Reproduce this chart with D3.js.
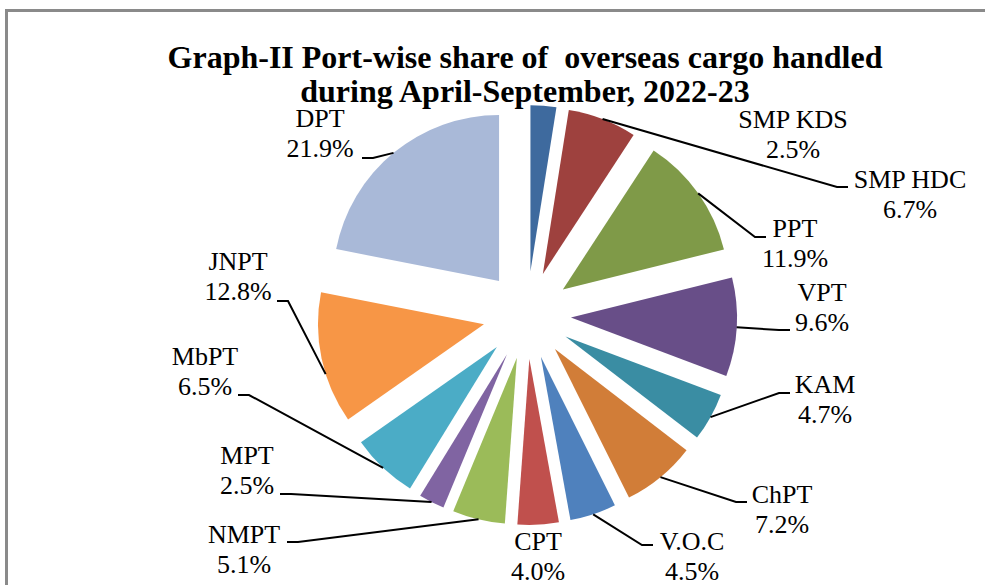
<!DOCTYPE html>
<html>
<head>
<meta charset="utf-8">
<script src="https://cdn.jsdelivr.net/npm/d3@7"></script>
<style>
  body { margin: 0; background: #fff; }
  svg { display: block; }
  text { font-family: "Liberation Serif", "Times New Roman", serif; fill: #000; }
</style>
</head>
<body>
<svg id="chart" width="985" height="585"></svg>
<script>
// data, clockwise from 12 o'clock
const ports = ["SMP KDS", "SMP HDC", "PPT", "VPT", "KAM", "ChPT", "V.O.C", "CPT", "NMPT", "MPT", "MbPT", "JNPT", "DPT"];
const shares = [2.5, 6.7, 11.9, 9.6, 4.7, 7.2, 4.5, 4.0, 5.1, 2.5, 6.5, 12.8, 21.9];
const colors = ["#3e6a9e", "#9e413e", "#7f9a48", "#684e88", "#3a8da3", "#d17d38",
                "#4f81bd", "#c0504d", "#9bbb59", "#8064a2", "#4bacc6", "#f79646", "#a9b9d8"];
const titleLines = ["Graph-II Port-wise share of  overseas cargo handled", "during April-September, 2022-23"];

// label placement (text centre x, first baseline y, leader end point, side of the stub, where on the arc the leader starts)
const labelLayout = {
    "SMP KDS": {x: 793, y: 128},
    "SMP HDC": {x: 910, y: 188, end: [848, 187], dir: 1},
    "PPT":     {x: 795, y: 237, end: [766, 237], dir: 1},
    "VPT":     {x: 822, y: 301, end: [790, 330], dir: 1},
    "KAM":     {x: 825, y: 393, end: [790, 393], dir: 1},
    "ChPT":    {x: 782, y: 503, end: [747, 502], dir: 1},
    "V.O.C":   {x: 692, y: 550, end: [653, 545], dir: 1},
    "CPT":     {x: 538, y: 550},
    "NMPT":    {x: 244, y: 543, end: [287, 542], dir: -1},
    "MPT":     {x: 247, y: 464, end: [280, 494], dir: -1},
    "MbPT":    {x: 205, y: 365, end: [238, 395], dir: -1},
    "JNPT":    {x: 238, y: 270, end: [277, 301], dir: -1, at: 0.38},
    "DPT":     {x: 320, y: 127, end: [362, 158], dir: -1}
};

const svg = d3.select("#chart");
const cx = 527, cy = 315;
const radius = 166, explode = 44;

// outer frame, runs off the right and bottom edges
svg.append("rect")
    .attr("x", 6.5).attr("y", 10.5)
    .attr("width", 1100).attr("height", 700)
    .attr("fill", "none")
    .attr("stroke", "#8a8a8a")
    .attr("stroke-width", 3);

svg.selectAll("text.title")
    .data(titleLines)
    .enter().append("text")
    .attr("class", "title")
    .attr("x", 525)
    .attr("y", (d, i) => 68 + i * 34)
    .attr("text-anchor", "middle")
    .style("font-size", "32px")
    .style("font-weight", "bold")
    .style("white-space", "pre")
    .text(d => d);

const pie = d3.pie().sort(null).value(d => d)(shares);
const arc = d3.arc().innerRadius(0).outerRadius(radius);

const polar = (ang, r) => [Math.sin(ang) * r, -Math.cos(ang) * r];

const slices = svg.append("g").attr("transform", `translate(${cx},${cy})`);
slices.selectAll("path")
    .data(pie)
    .enter().append("path")
    .attr("d", arc)
    .attr("fill", (d, i) => colors[i])
    .attr("transform", d => {
        let off = polar((d.startAngle + d.endAngle) / 2, explode);
        return `translate(${off[0]},${off[1]})`;
    });

// leader lines
const leaders = svg.append("g");
pie.forEach((d, i) => {
    let lay = labelLayout[ports[i]];
    if(!lay.end) return;
    let mid = (d.startAngle + d.endAngle) / 2;
    let t = lay.at === undefined ? 0.5 : lay.at;
    let ang = d.startAngle + (d.endAngle - d.startAngle) * t;
    let off = polar(mid, explode);
    let edge = polar(ang, radius);
    let p0 = [cx + off[0] + edge[0], cy + off[1] + edge[1]];
    let p2 = lay.end;
    let p1 = [p2[0] - lay.dir * 11, p2[1]];
    leaders.append("path")
        .attr("d", d3.line()([p0, p1, p2]))
        .attr("fill", "none")
        .attr("stroke", "#000")
        .attr("stroke-width", 2);
});

// data labels
const labels = svg.append("g");
ports.forEach((p, i) => {
    let lay = labelLayout[p];
    let t = labels.append("text")
        .attr("text-anchor", "middle")
        .style("font-size", "26px");
    t.append("tspan").attr("x", lay.x).attr("y", lay.y).text(p);
    t.append("tspan").attr("x", lay.x).attr("y", lay.y + 30).text(shares[i].toFixed(1) + "%");
});
</script>
</body>
</html>
